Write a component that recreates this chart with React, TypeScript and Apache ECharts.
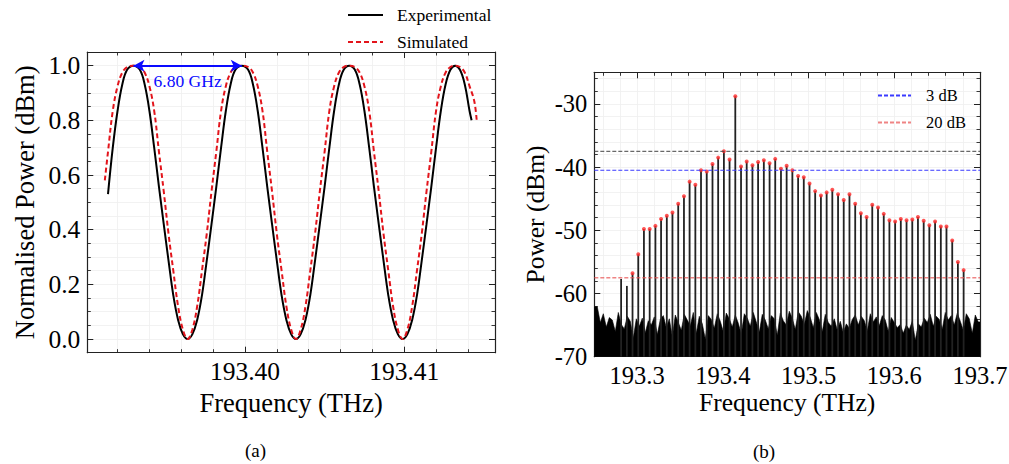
import React, { useEffect, useRef } from "react";
import * as echarts from "echarts";

const FONT = "'Liberation Serif', 'Times New Roman', serif";

// ---------- (a) transmission curves ----------
const expFreq = [
  193.3914, 193.3917, 193.392, 193.3923, 193.3926, 193.393,
  193.3934, 193.3937, 193.394, 193.3943, 193.3946, 193.3949, 193.3952, 193.3955, 193.3958, 193.3961, 193.3964,
  193.3967, 193.397, 193.3973, 193.3976, 193.3979, 193.3982, 193.3985, 193.3988, 193.3991, 193.3994, 193.3998,
  193.4002, 193.4005, 193.4008, 193.4011, 193.4014, 193.4017, 193.402, 193.4023, 193.4026, 193.4029, 193.4032,
  193.4035, 193.4038, 193.4041, 193.4044, 193.4047, 193.405, 193.4053, 193.4056, 193.4059, 193.4062, 193.40655,
  193.4069, 193.4072, 193.4075, 193.4078, 193.4081, 193.4084, 193.4087, 193.409, 193.4093, 193.4096, 193.4099,
  193.4102, 193.4105, 193.4108, 193.4111, 193.4114, 193.4117, 193.412, 193.4123, 193.4126, 193.4129, 193.4132,
  193.4135, 193.4138, 193.4141, 193.41423,
];
const expVal = [
  0.53, 0.7, 0.835, 0.932, 0.985, 1.0,
  0.985, 0.932, 0.835, 0.7, 0.557, 0.42, 0.287, 0.16, 0.07, 0.018, 0.0,
  0.018, 0.07, 0.16, 0.287, 0.42, 0.557, 0.7, 0.835, 0.932, 0.985, 1.0,
  0.985, 0.932, 0.835, 0.7, 0.557, 0.42, 0.287, 0.16, 0.07, 0.018, 0.0,
  0.018, 0.07, 0.16, 0.287, 0.42, 0.557, 0.7, 0.835, 0.932, 0.985, 1.0,
  0.985, 0.932, 0.835, 0.7, 0.557, 0.42, 0.287, 0.16, 0.07, 0.018, 0.0,
  0.018, 0.07, 0.16, 0.287, 0.42, 0.557, 0.7, 0.835, 0.932, 0.985, 1.0,
  0.985, 0.932, 0.835, 0.8,
];
const simFreq = [
  193.3912, 193.3914, 193.3917, 193.392, 193.3923, 193.3926, 193.393,
  193.3934, 193.3937, 193.394, 193.3943, 193.3946, 193.3949, 193.3952, 193.3955, 193.3958, 193.3961, 193.3964,
  193.3967, 193.397, 193.3973, 193.3976, 193.3979, 193.3982, 193.3985, 193.3988, 193.3991, 193.3994, 193.3998,
  193.4002, 193.4005, 193.4008, 193.4011, 193.4014, 193.4017, 193.402, 193.4023, 193.4026, 193.4029, 193.4032,
  193.4035, 193.4038, 193.4041, 193.4044, 193.4047, 193.405, 193.4053, 193.4056, 193.4059, 193.4062, 193.40655,
  193.4069, 193.4072, 193.4075, 193.4078, 193.4081, 193.4084, 193.4087, 193.409, 193.4093, 193.4096, 193.4099,
  193.4102, 193.4105, 193.4108, 193.4111, 193.4114, 193.4117, 193.412, 193.4123, 193.4126, 193.4129, 193.4132,
  193.4135, 193.4138, 193.4141, 193.4144, 193.41455,
];
const simVal = [
  0.58, 0.685, 0.835, 0.925, 0.975, 0.995, 1.0,
  0.995, 0.975, 0.925, 0.835, 0.685, 0.54, 0.385, 0.25, 0.12, 0.035, 0.0,
  0.035, 0.12, 0.25, 0.385, 0.54, 0.685, 0.835, 0.925, 0.975, 0.995, 1.0,
  0.995, 0.975, 0.925, 0.835, 0.685, 0.54, 0.385, 0.25, 0.12, 0.035, 0.0,
  0.035, 0.12, 0.25, 0.385, 0.54, 0.685, 0.835, 0.925, 0.975, 0.995, 1.0,
  0.995, 0.975, 0.925, 0.835, 0.685, 0.54, 0.385, 0.25, 0.12, 0.035, 0.0,
  0.035, 0.12, 0.25, 0.385, 0.54, 0.685, 0.835, 0.925, 0.975, 0.995, 1.0,
  0.995, 0.975, 0.925, 0.87, 0.8,
];
const fsrArrow = [193.393, 193.3998]; // peak to peak
const fsrLabel = "6.80 GHz";

const aXMajor = [193.4, 193.41];
const aXMinor = [193.392, 193.394, 193.396, 193.398, 193.4, 193.402, 193.404, 193.406, 193.408, 193.41, 193.412, 193.414];
const aYMajor = [0, 0.2, 0.4, 0.6, 0.8, 1.0];
const aYMinor = [0, 0.05, 0.1, 0.15, 0.2, 0.25, 0.3, 0.35, 0.4, 0.45, 0.5, 0.55, 0.6, 0.65, 0.7, 0.75, 0.8, 0.85, 0.9, 0.95, 1.0];

// ---------- (b) comb spectrum ----------
const combFreq = [
  193.2813, 193.288, 193.2946, 193.3013, 193.3079, 193.3146, 193.3213, 193.3279, 193.3346, 193.3412,
  193.3479, 193.3546, 193.3612, 193.3679, 193.3745, 193.3812, 193.3879, 193.3945, 193.4012, 193.4078,
  193.4145, 193.4212, 193.4278, 193.4345, 193.4411, 193.4478, 193.4545, 193.4611, 193.4678, 193.4744,
  193.4811, 193.4878, 193.4944, 193.5011, 193.5077, 193.5144, 193.5211, 193.5277, 193.5344, 193.541,
  193.5477, 193.5544, 193.561, 193.5677, 193.5743, 193.581, 193.5877, 193.5943, 193.601, 193.6076,
  193.6143, 193.621, 193.6276, 193.6343, 193.6409, 193.6476, 193.6543, 193.6609, 193.6676, 193.6742,
  193.6809,
];
const combPower = [
  -57.7, -58.8, -56.8, -53.8, -49.8, -49.8, -49.3, -48.2, -47.7, -47.2,
  -45.8, -44.6, -42.3, -42.8, -40.5, -40.7, -39.5, -38.5, -37.5, -38.8,
  -28.8, -39.9, -39.1, -39.7, -39.2, -38.9, -39.4, -38.7, -40.25, -39.8,
  -40.5, -41.4, -41.6, -42.6, -43.8, -44.5, -44.0, -43.6, -44.3, -45.2,
  -44.3, -45.8, -47.3, -47.9, -45.95, -46.4, -47.4, -48.4, -48.6, -48.2,
  -48.4, -48.3, -47.9, -48.5, -49.2, -48.6, -49.4, -49.4, -51.6, -55.0,
  -56.3,
];
const markedFrom = 2; // first two weak lines carry no red marker

const noiseStart = 193.25;
const noiseStep = 0.0035;
const noisePower = [
  -62.1, -62.1, -64.6, -63.2, -65.3, -63.8, -64.2, -66.0, -63.0, -64.9,
  -65.6, -63.6, -64.4, -67.0, -64.0, -65.2, -63.9, -66.2, -64.3, -65.0,
  -63.7, -66.5, -64.1, -63.5, -65.4, -64.0, -66.8, -63.4, -64.6, -65.8,
  -63.3, -64.2, -65.1, -63.0, -66.3, -63.6, -64.8, -67.2, -63.5, -64.1,
  -65.5, -63.2, -64.4, -66.0, -63.1, -64.0, -65.3, -63.4, -64.7, -66.4,
  -63.2, -63.9, -65.2, -63.0, -64.5, -66.1, -63.3, -64.2, -65.6, -63.5,
  -64.0, -66.6, -63.1, -64.3, -65.0, -62.8, -63.9, -65.7, -62.9, -63.6,
  -64.9, -62.7, -63.8, -65.4, -63.0, -64.1, -66.0, -63.3, -64.6, -65.2,
  -64.0, -65.8, -64.4, -66.2, -64.8, -65.5, -64.1, -63.4, -65.0, -63.6,
  -64.3, -65.9, -63.2, -64.5, -63.7, -65.1, -63.5, -64.2, -66.0, -63.8,
  -64.6, -65.4, -64.9, -66.3, -65.0, -65.7, -64.4, -67.4, -64.8, -65.3,
  -63.9, -64.6, -63.3, -65.2, -63.6, -64.1, -65.6, -63.0, -64.2, -63.5,
  -65.0, -63.1, -64.4, -65.8, -63.2, -64.0, -66.3, -63.4, -64.5,
];

const refLevel = -37.5;
const level3dB = -40.5;
const level20dB = -57.5;

const bXMin = 193.25, bXMax = 193.7, bYMin = -70, bYMax = -25;
const bXMajor = [193.3, 193.4, 193.5, 193.6, 193.7];
const bXMinor = [193.26, 193.28, 193.3, 193.32, 193.34, 193.36, 193.38, 193.4, 193.42, 193.44, 193.46, 193.48, 193.5, 193.52, 193.54, 193.56, 193.58, 193.6, 193.62, 193.64, 193.66, 193.68];
const bYMajor = [-70, -60, -50, -40, -30];
const bYMinor = [-68, -66, -64, -62, -60, -58, -56, -54, -52, -50, -48, -46, -44, -42, -40, -38, -36, -34, -32, -30, -28, -26];

const AXIS_COLOR = "#222";

function axisGroup(
  dim: "x" | "y",
  gridIndex: number,
  min: number,
  max: number,
  majors: number[],
  minors: number[],
  fmt: (v: number) => string,
  name: string,
  nameGap: number,
  labelSize: number,
  nameSize: number,
  labelMargin: number
) {
  const sides = dim === "x" ? ["bottom", "top"] : ["left", "right"];
  const base = {
    type: "value",
    gridIndex,
    min,
    max,
    axisLine: { show: true, onZero: false, lineStyle: { color: AXIS_COLOR, width: 1.2 } },
    splitLine: { show: false },
    axisPointer: { show: false },
  };
  const out: any[] = [];
  sides.forEach((pos, si) => {
    out.push({
      ...base,
      position: pos,
      axisTick: { show: true, inside: true, length: 6, customValues: majors, lineStyle: { color: AXIS_COLOR, width: 1 } },
      axisLabel: {
        show: si === 0,
        customValues: majors,
        formatter: (v: number) => fmt(v),
        margin: labelMargin,
        fontSize: labelSize,
        fontFamily: FONT,
        color: "#000",
      },
      ...(si === 0
        ? {
            name,
            nameLocation: "middle",
            nameGap,
            nameMoveOverlap: false,
            nameTextStyle: { fontSize: nameSize, fontFamily: FONT, color: "#000" },
          }
        : {}),
    });
    out.push({
      ...base,
      position: pos,
      axisLine: { show: false, onZero: false },
      axisTick: { show: true, inside: true, length: 3.5, customValues: minors, lineStyle: { color: AXIS_COLOR, width: 0.9 } },
      axisLabel: { show: false },
      splitLine: { show: si === 0, lineStyle: { color: "#efefef", width: 0.8 } },
    });
  });
  return out;
}

export default function App() {
  const ref = useRef<HTMLDivElement>(null);
  useEffect(() => {
    if (!ref.current) return;
    const chart = echarts.init(ref.current, undefined, { renderer: "svg" });

    const xAxes = [
      ...axisGroup("x", 0, 193.3901, 193.4157, aXMajor, aXMinor, (v) => v.toFixed(2), "Frequency (THz)", 37, 25.5, 26.5, 6),
      ...axisGroup("x", 1, bXMin, bXMax, bXMajor, bXMinor, (v) => v.toFixed(1), "Frequency (THz)", 33, 24.5, 25.5, 6),
    ];
    const yAxes = [
      ...axisGroup("y", 0, -0.05, 1.05, aYMajor, aYMinor, (v) => v.toFixed(1), "Normalised Power (dBm)", 49, 25.5, 26.5, 7),
      ...axisGroup("y", 1, bYMin, bYMax, bYMajor, bYMinor, (v) => v.toFixed(0), "Power (dBm)", 46, 24.5, 25.5, 7),
    ];

    const expData = expFreq.map((f, i) => [f, expVal[i]]);
    const simData = simFreq.map((f, i) => [f, simVal[i]]);
    const combData = combFreq.map((f, i) => [f, combPower[i]]);
    const noiseData = noisePower.map((p, i) => [noiseStart + i * noiseStep, p]);
    noiseData.push([bXMax, noisePower[noisePower.length - 1]]);

    const option: any = {
      animation: false,
      backgroundColor: "#fff",
      textStyle: { fontFamily: FONT },
      grid: [
        { left: 87.3, top: 52, right: 1009 - 495, bottom: 464 - 352.7, outerBoundsMode: "none", containLabel: false },
        { left: 594.3, top: 72.3, right: 1009 - 980, bottom: 464 - 356.7, outerBoundsMode: "none", containLabel: false },
      ],
      xAxis: xAxes,
      yAxis: yAxes,
      legend: [
        {
          data: ["Experimental", "Simulated"],
          orient: "vertical",
          left: 347,
          top: 6,
          padding: 0,
          itemWidth: 35,
          itemHeight: 14,
          itemGap: 9,
          selectedMode: false,
          itemStyle: { opacity: 0 },
          textStyle: { fontFamily: FONT, fontSize: 17.5, color: "#000", padding: [0, 0, 0, 9] },
        },
        {
          data: ["3 dB", "20 dB"],
          orient: "vertical",
          left: 877,
          top: 87,
          padding: 0,
          itemWidth: 33,
          itemHeight: 14,
          itemGap: 10,
          selectedMode: false,
          itemStyle: { opacity: 0 },
          textStyle: { fontFamily: FONT, fontSize: 16.5, color: "#000", padding: [0, 0, 0, 10] },
        },
      ],
      graphic: [
        { type: "text", left: 245, top: 441, style: { text: "(a)", font: `19px ${FONT}`, fill: "#000" } },
        { type: "text", left: 753, top: 442, style: { text: "(b)", font: `19px ${FONT}`, fill: "#000" } },
      ],
      series: [
        {
          name: "Experimental",
          type: "line",
          xAxisIndex: 0,
          yAxisIndex: 0,
          data: expData,
          symbol: "none",
          smooth: 0.4,
          lineStyle: { color: "#000", width: 2 },
          itemStyle: { color: "#000" },
          z: 3,
          markLine: {
            silent: true,
            symbol: ["arrow", "arrow"],
            symbolSize: [9, 11],
            lineStyle: { color: "#0a0aff", width: 2, type: "solid" },
            label: {
              show: true,
              position: "insideMiddleBottom",
              formatter: fsrLabel,
              color: "#0a0aff",
              fontSize: 17.5,
              fontFamily: FONT,
              distance: 6,
            },
            emphasis: { disabled: true },
            data: [[{ coord: [fsrArrow[0], 1.0] }, { coord: [fsrArrow[1], 1.0] }]],
          },
        },
        {
          name: "Simulated",
          type: "line",
          xAxisIndex: 0,
          yAxisIndex: 0,
          data: simData,
          symbol: "none",
          smooth: 0.4,
          lineStyle: { color: "#e3141b", width: 2, type: [5, 3] },
          itemStyle: { color: "#e3141b" },
          z: 4,
        },
        {
          name: "noise",
          type: "line",
          xAxisIndex: 4,
          yAxisIndex: 4,
          data: noiseData,
          symbol: "none",
          lineStyle: { color: "#000", width: 0.6 },
          areaStyle: { color: "#000", opacity: 1, origin: "start" },
          z: 2,
        },
        {
          name: "comb",
          type: "custom",
          xAxisIndex: 4,
          yAxisIndex: 4,
          data: combData,
          encode: { x: 0, y: 1 },
          renderItem: (params: any, api: any) => {
            const top = api.coord([api.value(0), api.value(1)]);
            const bottom = api.coord([api.value(0), bYMin]);
            return {
              type: "line",
              shape: { x1: top[0], y1: bottom[1], x2: top[0], y2: top[1] },
              style: { stroke: "#222", lineWidth: 1.8 },
            };
          },
          z: 3,
        },
        {
          name: "peaks",
          type: "scatter",
          xAxisIndex: 4,
          yAxisIndex: 4,
          data: combData.slice(markedFrom),
          symbolSize: 4,
          itemStyle: { color: "#ff2a2a" },
          z: 5,
        },
        {
          name: "ref",
          type: "line",
          xAxisIndex: 4,
          yAxisIndex: 4,
          data: [[bXMin, refLevel], [bXMax, refLevel]],
          symbol: "none",
          lineStyle: { color: "#444", width: 1, type: [4, 2] },
          z: 6,
        },
        {
          name: "3 dB",
          type: "line",
          xAxisIndex: 4,
          yAxisIndex: 4,
          data: [[bXMin, level3dB], [bXMax, level3dB]],
          symbol: "none",
          lineStyle: { color: "#3a3aff", width: 1, type: [4, 2] },
          itemStyle: { color: "#3a3aff" },
          z: 6,
        },
        {
          name: "20 dB",
          type: "line",
          xAxisIndex: 4,
          yAxisIndex: 4,
          data: [[bXMin, level20dB], [bXMax, level20dB]],
          symbol: "none",
          lineStyle: { color: "rgba(232,80,80,0.7)", width: 1.5, type: [4, 2] },
          itemStyle: { color: "rgba(232,80,80,0.7)" },
          z: 6,
        },
      ],
    };
    chart.setOption(option);
    return () => chart.dispose();
  }, []);

  return (
    <div
      ref={ref}
      style={{ position: "fixed", left: 0, top: 0, width: 1009, height: 464, background: "#fff" }}
    />
  );
}
